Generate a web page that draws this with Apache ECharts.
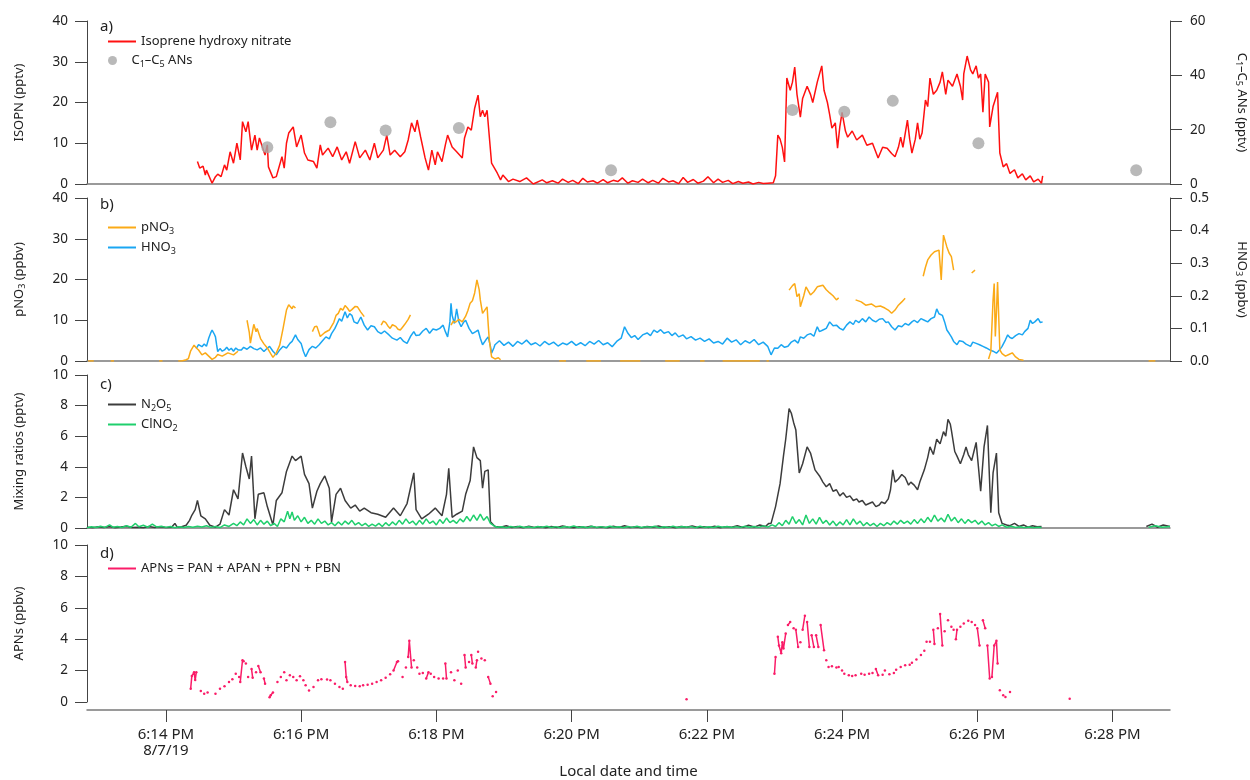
<!DOCTYPE html>
<html>
<head>
<meta charset="utf-8">
<script src="https://cdn.jsdelivr.net/npm/echarts@6/dist/echarts.min.js"></script>
<style>
  html, body { margin: 0; padding: 0; background: #fff; }
  #chart { width: 1250px; height: 780px; }
</style>
</head>
<body>
<div id="chart"></div>
<script>
// Time is given in seconds after 6:14:00 PM on 8/7/19; null marks a gap in the record.
const timeStart = -70, timeEnd = 891;
const tickSeconds = [0, 120, 240, 360, 480, 600, 720, 840];
const tickLabels = ['6:14 PM\n8/7/19', '6:16 PM', '6:18 PM', '6:20 PM', '6:22 PM', '6:24 PM', '6:26 PM', '6:28 PM'];

// a) isoprene hydroxy nitrate (pptv)
const isopn = [
  [28,5.5],[30,3.9],[33,4.4],[35,2.2],[36,3.4],[41,0.2],[44,1.8],[46,2.4],[49,1.8],[52,4.7],[54,3.4],[57,7.9],[60,5.1],[63,10],[66,5.9],
  [68,15.3],[71,12.8],[73,15.3],[76,8.3],[79,12],[81,8.3],[83,11.3],[88,7.1],[90,9.6],[91,4.2],[95,1.5],[98,1.8],[103,6.7],[105,3.9],
  [107,10],[109,12.5],[113,14],[116,9.1],[120,12],[123,7.6],[126,5.9],[131,5.5],[134,3.9],[137,9.6],[139,7.1],[144,8.8],[148,6.7],
  [152,9.1],[156,5.9],[160,7.9],[163,5.1],[168,10.4],[172,6.4],[177,8.3],[181,5.9],[185,10],[188,6.4],[193,8.3],[196,12],[199,7.1],
  [203,8.3],[208,6.7],[212,7.9],[215,10.8],[218,15],[221,12.8],[223,15.7],[226,11.6],[230,6.4],[233,3.4],[236,8.3],[239,4.7],[241,7.9],
  [245,5.5],[248,9.6],[250,12],[254,9.1],[258,7.9],[263,6.4],[265,11.3],[268,14],[271,13.2],[274,18.6],[277,21.8],[279,16.5],[281,18.1],
  [283,16.5],[285,18.1],[287,11.6],[289,5.1],[294,2.7],[297,1],[299,2.2],[304,0.6],[308,1.2],[314,0.6],[320,1.5],[326,0],[334,1],[338,0.3],
  [343,0.8],[348,0.2],[352,1.2],[357,0.4],[361,0.9],[366,0.1],[370,1.4],[374,0.5],[379,0.8],[383,0.2],[388,1.1],[392,0.3],[397,0.9],
  [401,0.6],[405,1.5],[410,0.2],[414,0.8],[419,0.4],[423,1.2],[428,0.3],[432,0.9],[437,0.2],[441,1.4],[446,0.5],[450,0.8],[455,0.1],
  [459,1.6],[463,0.4],[468,1.1],[472,0.2],[477,0.7],[481,1.8],[486,0.3],[490,1.2],[494,0.4],[499,0.9],[503,0.1],[508,0.6],[512,0.2],
  [517,0.5],[521,0],[526,0.4],[530,0.1],[534,0.2],[539,0.3],[541,2],[543,12],[545,11],[547,9],[549,5.4],[551,26],[554,23],[556,25],
  [558,28.7],[560,22],[563,16.4],[565,21],[569,24],[572,22],[574,20],[578,25],[582,29],[584,23],[587,20],[589,17],[591,13.7],[594,15],
  [596,8.8],[598,14],[600,17.6],[603,13],[605,11.5],[609,13],[613,10.8],[618,12],[622,9.5],[627,10],[632,6.4],[636,9],[640,8.8],
  [644,7.5],[647,6.7],[650,9],[652,11.5],[654,9],[658,15.7],[660,11],[662,7.6],[665,11],[667,15],[669,11],[671,12.5],[674,20.6],
  [676,19],[678,26],[681,22],[684,23],[687,25],[689,27.5],[692,22],[694,25.5],[698,24],[702,27],[705,24],[707,20.6],[708,27],[711,31.4],
  [714,28],[716,27],[719,29],[721,26],[723,27],[725,17.6],[727,27],[730,25],[731,14],[734,19],[738,22.5],[740,7.6],[743,4.2],[746,5],
  [749,2.6],[753,3.5],[756,1.5],[760,2.5],[763,1],[767,2],[770,0.5],[774,1.2],[777,0.2],[778,2]
];
// a) C1–C5 alkyl nitrates (pptv, right axis)
const alkylNitrates = [[90,13.5],[146,22.7],[195,19.7],[260,20.6],[395,5.1],[556,27.2],[602,26.6],[645,30.6],[721,15],[861,5.1]];

// b) particulate nitrate (ppbv)
const pno3 = [
  [-69,0],[-64,0],null,[-49,0],[-46,0],null,[-6,0],[-3,0],null,
  [11,0],[14,0],[18,0.3],[20,0.6],[22,2.5],[25,3.9],[27,3.2],[29,2.7],[32,1.5],[35,2],[38,1.2],[41,0.4],[44,0.9],[46,1.6],[50,1.2],
  [55,2],[60,1.5],[64,2.4],null,
  [72,10],[74,7],[75,4.4],[77,7.5],[78,9],[80,7.2],[81,8],[84,5.5],[87,4.2],[90,3.2],[93,1.8],[95,0.9],[98,2],[101,3.9],[104,8],
  [106,11],[107,12.5],[109,13.8],[110,14.2],[112,12.8],[113,13.5],[115,13],null,
  [130,7.2],[132,8.4],[134,8.5],[137,6],[139,6.5],[141,7],[145,7.6],[149,9.5],[151,11.2],[153,11.7],[155,12.9],[157,12.5],[159,13.6],
  [161,13],[163,12.2],[165,12.6],[168,13.4],[170,13.3],[173,12],[176,10.9],null,
  [191,8.8],[193,9.8],[195,9.5],[197,8.6],[199,8],[201,8.9],[204,8.5],[206,7.8],[208,7.6],[210,8.3],[212,9],[215,10.2],[217,11.3],null,
  [253,8.8],[255,9.8],[257,9.5],[260,10.2],[263,9.6],[266,11],[268,12.4],[270,14.2],[272,14.8],[274,16.7],[276,19.9],[278,17.5],
  [279,15],[281,11.7],[283,12.5],[285,13.3],[286,9],[287,5.1],[289,1],[292,0.5],[295,0.8],[297,0.3],null,
  [349,0],[355,0],null,[373,0],[386,0],null,[403,0],[421,0],null,[443,0],[456,0],null,[474,0],[478,0],null,[494,0],[527,0],null,
  [533,0],[535,0],null,
  [553,17.4],[556,18.5],[558,19],[560,15.8],[562,16.5],[563,13.3],[566,16],[568,18.2],[572,16.2],[575,17],[578,18.2],[583,18.6],
  [586,17.5],[589,16.7],[592,16],[595,15],[597,15.5],null,
  [612,15],[617,14.5],[621,13.7],[626,14],[630,13.3],[634,13.5],[638,13],[641,12.5],[644,11.7],[647,12.5],[650,13.7],[653,14.5],
  [656,15.4],null,
  [672,20.8],[674,23],[676,24.8],[679,26],[682,26.8],[686,27.2],[688,19.9],[690,30.9],[693,28],[695,26.5],[697,25.6],[699,22.3],null,
  [715,21.6],[718,22.3],null,
  [730,0.5],[732,2.3],[734,15],[735,19],[736,6],[737,12],[738,19.4],[740,2.7],[742,1.8],[745,1.2],[748,1.6],[751,2],[754,1],
  [757,0.4],[761,0.2],null,
  [872,0],[878,0]
];
// b) gas-phase nitric acid (ppbv, right axis)
const hno3 = [
  [27,0.039],[29,0.05],[30,0.054],[32,0.044],[34,0.052],[36,0.045],[38,0.07],[40,0.088],[41,0.095],[43,0.082],[44,0.074],[45,0.05],
  [46,0.029],[48,0.038],[50,0.03],[52,0.034],[54,0.042],[56,0.033],[58,0.039],[60,0.03],[62,0.04],[64,0.034],[67,0.034],[69,0.042],
  [72,0.036],[75,0.045],[78,0.038],[81,0.034],[84,0.04],[87,0.029],[89,0.036],[92,0.045],[95,0.03],[98,0.019],[101,0.034],[104,0.045],
  [107,0.04],[110,0.054],[112,0.06],[115,0.08],[117,0.066],[120,0.054],[122,0.03],[124,0.013],[127,0.035],[130,0.045],[133,0.04],
  [136,0.05],[139,0.062],[142,0.074],[145,0.068],[147,0.084],[150,0.1],[152,0.115],[154,0.13],[156,0.122],[159,0.151],[161,0.132],
  [163,0.145],[165,0.14],[167,0.12],[170,0.115],[173,0.135],[176,0.11],[179,0.095],[182,0.108],[185,0.105],[188,0.09],[191,0.084],
  [194,0.092],[198,0.08],[201,0.07],[205,0.064],[208,0.072],[211,0.06],[214,0.054],[217,0.075],[220,0.09],[222,0.078],[225,0.08],
  [228,0.092],[231,0.1],[234,0.085],[237,0.098],[240,0.095],[243,0.1],[246,0.11],[248,0.09],[250,0.074],[252,0.12],[253,0.177],
  [254,0.14],[256,0.115],[258,0.16],[260,0.12],[262,0.105],[264,0.118],[266,0.125],[269,0.1],[272,0.084],[275,0.09],[277,0.095],
  [279,0.07],[281,0.05],[284,0.065],[286,0.074],[288,0.045],[289,0.024],[291,0.04],
  [292,0.05],[296,0.062],[300,0.048],[304,0.058],[308,0.045],[312,0.06],[316,0.052],[320,0.064],[324,0.05],[328,0.056],[332,0.046],
  [336,0.06],[340,0.05],[344,0.058],[348,0.046],[352,0.055],[356,0.05],[360,0.06],[364,0.048],[368,0.056],[372,0.047],[376,0.06],
  [380,0.052],[384,0.063],[388,0.05],[392,0.056],[396,0.044],[400,0.06],[404,0.07],[407,0.105],[410,0.085],[413,0.072],[416,0.078],
  [419,0.066],[423,0.08],[427,0.086],[430,0.078],[433,0.095],[436,0.088],[439,0.096],[442,0.085],[446,0.09],[449,0.078],[452,0.086],
  [455,0.074],[459,0.08],[462,0.068],[466,0.075],[470,0.064],[474,0.07],[478,0.06],[482,0.068],[486,0.055],[490,0.06],[494,0.052],
  [498,0.07],[502,0.058],[506,0.065],[510,0.05],[514,0.062],[518,0.055],[522,0.066],[526,0.05],[530,0.058],[534,0.045],[537,0.019],
  [540,0.04],[543,0.039],[546,0.05],[549,0.042],[552,0.045],[555,0.058],[558,0.064],[561,0.055],[563,0.074],[566,0.07],[569,0.08],
  [572,0.084],[575,0.076],[578,0.105],[580,0.09],[583,0.095],[586,0.1],[589,0.12],[592,0.108],[595,0.11],[598,0.1],[601,0.095],
  [604,0.11],[607,0.12],[610,0.112],[612,0.125],[615,0.118],[618,0.13],[621,0.12],[624,0.135],[627,0.125],[630,0.12],[633,0.128],
  [636,0.13],[639,0.118],[641,0.12],[644,0.105],[647,0.095],[650,0.108],[653,0.105],[656,0.115],[659,0.11],[662,0.12],[664,0.125],
  [667,0.118],[670,0.13],[673,0.125],[676,0.12],[679,0.13],[682,0.135],[684,0.16],[686,0.145],[689,0.14],[691,0.12],[693,0.095],
  [695,0.085],[697,0.074],[699,0.06],[702,0.05],[704,0.062],[707,0.06],[710,0.052],[714,0.045],[716,0.058],[719,0.054],[722,0.05],
  [725,0.045],[728,0.04],[731,0.034],[734,0.03],[737,0.024],[740,0.035],[742,0.045],[745,0.065],[747,0.08],[749,0.072],[751,0.069],
  [754,0.078],[757,0.084],[760,0.08],[762,0.09],[765,0.1],[767,0.125],[769,0.115],[771,0.12],[774,0.13],[776,0.118],[778,0.12]
];

// c) dinitrogen pentoxide (pptv)
const n2o5 = [
  [-70,0.05],[-65,0.02],[-60,0.08],[-55,0.03],[-50,0.1],[-45,0.02],[-40,0.06],[-35,0.12],[-30,0.03],[-25,0.05],[-20,0.02],[-15,0.1],
  [-10,0.04],[-5,0.08],[0,0.03],[5,0.05],[8,0.3],[10,0.05],[14,0.08],
  [18,0.18],[21,0.5],[23,0.83],[26,1.2],[28,1.8],[31,0.8],[35,0.6],[39,0.18],[44,0.05],[48,0.25],[52,1.2],[56,0.85],[60,2.5],[64,1.9],
  [68,4.9],[71,4.0],[74,3.2],[76,4.7],[79,0.6],[82,2.2],[87,2.3],[90,1.4],[95,0.2],[98,1.8],[103,2.3],[107,3.7],[112,4.7],[115,4.4],
  [120,4.7],[123,3.5],[127,2.9],[130,1.3],[134,2.4],[137,2.9],[141,3.4],[145,2.6],[147,0.4],[151,2.2],[155,2.6],[159,1.8],[164,1.3],
  [168,1.5],[172,1.1],[176,1.3],[182,1.0],[188,0.9],[195,0.7],[202,1.3],[208,0.8],[214,1.6],[220,3.6],[222,1.2],[227,0.6],[233,0.9],
  [239,1.3],[245,0.8],[249,2.2],[251,3.9],[254,0.7],[258,0.9],[263,1.1],[266,2.2],[270,3.1],[273,5.3],[276,4.6],[279,4.4],[281,2.6],
  [283,3.7],[286,3.8],[288,0.4],[292,0.1],
  [297,0.05],[302,0.15],[307,0.03],[312,0.1],[317,0.02],[322,0.12],[327,0.04],[332,0.08],[337,0.02],[342,0.1],[347,0.03],[352,0.14],
  [357,0.05],[362,0.02],[367,0.09],[372,0.03],[377,0.12],[382,0.04],[387,0.07],[392,0.02],[397,0.11],[402,0.04],[407,0.15],[412,0.03],
  [417,0.08],[422,0.02],[427,0.1],[432,0.05],[437,0.13],[442,0.03],[447,0.09],[452,0.02],[457,0.1],[462,0.05],[467,0.14],[472,0.03],
  [477,0.08],[482,0.04],[487,0.12],[492,0.02],[497,0.09],[502,0.05],[507,0.15],[512,0.04],[517,0.18],[522,0.06],[527,0.2],[532,0.1],
  [535,0.3],[537,0.3],[541,1.4],[545,2.9],[548,4.7],[550,5.8],[553,7.8],[555,7.5],[557,6.9],[559,6.4],[562,3.6],[565,4.2],[569,5.3],
  [572,4.9],[576,3.8],[580,3.4],[583,3.0],[586,2.7],[589,2.9],[592,2.4],[595,2.5],[598,2.1],[601,2.3],[604,2.0],[607,2.1],[610,1.8],
  [613,1.9],[615,1.7],[618,1.8],[621,1.5],[624,1.6],[627,1.7],[630,1.4],[633,1.5],[635,1.7],[638,1.6],[641,1.9],[643,2.5],[645,3.8],
  [647,3.0],[650,3.2],[653,3.5],[656,3.3],[659,2.8],[661,3.0],[664,2.8],[667,2.5],[669,3.0],[673,3.8],[676,4.6],[678,5.3],[681,4.8],
  [684,5.8],[687,5.5],[690,6.3],[692,6.0],[694,7.1],[696,6.8],[697,6.4],[700,5.0],[702,4.7],[705,4.2],[708,4.8],[710,5.3],[712,4.8],
  [715,4.4],[717,5.0],[719,5.6],[721,4.0],[723,2.4],[726,5.3],[729,6.7],[732,1.0],[734,3.6],[737,4.9],[739,1.0],[742,0.3],[746,0.2],
  [749,0.15],[753,0.3],[757,0.1],[761,0.2],[765,0.05],[769,0.15],[773,0.08],[777,0.1],null,
  [870,0.1],[875,0.25],[880,0.05],[885,0.2],[891,0.1]
];
// c) nitryl chloride (pptv)
const clno2 = [
  [-70,0.02],[-66,0.08],[-62,0.03],[-58,0.12],[-54,0.04],[-50,0.2],[-47,0.05],[-43,0.1],[-39,0.03],[-35,0.15],[-31,0.05],[-27,0.3],
  [-24,0.08],[-20,0.18],[-16,0.05],[-12,0.25],[-8,0.06],[-4,0.12],[0,0.04],[4,0.1],[8,0.02],[12,0.08],[16,0.03],[20,0.1],
  [24,0.05],[28,0.12],[32,0.06],[36,0.15],[40,0.04],[44,0.1],[48,0.03],[52,0.2],[56,0.1],[60,0.3],[63,0.15],[66,0.4],[69,0.2],[72,0.6],
  [75,0.3],[78,0.55],[81,0.2],[84,0.5],[87,0.25],[90,0.45],[93,0.15],[96,0.3],[99,0.1],[102,0.6],[105,0.4],[108,1.1],[110,0.6],
  [112,1.05],[114,0.5],[117,0.8],[120,0.4],[123,0.7],[126,0.3],[129,0.5],[132,0.25],[135,0.6],[138,0.3],[141,0.45],[144,0.2],[147,0.35],
  [150,0.15],[153,0.4],[156,0.2],[159,0.45],[162,0.25],[165,0.5],[168,0.2],[171,0.35],[174,0.15],[177,0.3],[180,0.1],[183,0.25],
  [186,0.12],[189,0.3],[192,0.1],[195,0.35],[198,0.15],[201,0.4],[204,0.2],[207,0.5],[210,0.25],[213,0.6],[216,0.3],[219,0.45],
  [222,0.2],[225,0.5],[228,0.25],[231,0.6],[234,0.3],[237,0.45],[240,0.2],[243,0.55],[246,0.3],[249,0.65],[252,0.35],[255,0.5],
  [258,0.3],[261,0.6],[264,0.4],[267,0.75],[270,0.45],[273,0.85],[276,0.5],[279,0.9],[282,0.5],[285,0.75],[288,0.3],[291,0.15],
  [294,0.05],[298,0.08],[302,0.02],[306,0.1],[310,0.04],[314,0.12],[318,0.03],[322,0.08],[326,0.02],[330,0.1],[334,0.05],[338,0.12],
  [342,0.03],[346,0.09],[350,0.02],[354,0.1],[358,0.05],[362,0.13],[366,0.03],[370,0.08],[374,0.02],[378,0.11],[382,0.04],[386,0.09],
  [390,0.03],[394,0.12],[398,0.05],[402,0.08],[406,0.02],[410,0.1],[414,0.04],[418,0.12],[422,0.03],[426,0.09],[430,0.05],[434,0.11],
  [438,0.02],[442,0.08],[446,0.04],[450,0.12],[454,0.03],[458,0.1],[462,0.05],[466,0.09],[470,0.02],[474,0.11],[478,0.04],[482,0.08],
  [486,0.03],[490,0.12],[494,0.05],[498,0.1],[502,0.03],[506,0.09],[510,0.04],[514,0.12],[518,0.05],[522,0.1],[526,0.04],[530,0.14],
  [534,0.06],[538,0.2],[541,0.1],[544,0.35],[547,0.15],[550,0.5],[553,0.25],[556,0.75],[559,0.3],[562,0.55],[565,0.2],[568,0.85],
  [571,0.3],[574,0.6],[577,0.25],[580,0.7],[583,0.3],[586,0.5],[589,0.2],[592,0.45],[595,0.15],[598,0.4],[601,0.2],[604,0.55],
  [607,0.2],[610,0.6],[613,0.25],[616,0.45],[619,0.15],[622,0.35],[625,0.15],[628,0.3],[631,0.1],[634,0.3],[637,0.15],[640,0.35],
  [643,0.2],[646,0.45],[649,0.25],[652,0.5],[655,0.3],[658,0.45],[661,0.25],[664,0.55],[667,0.3],[670,0.6],[673,0.35],[676,0.7],
  [679,0.4],[682,0.85],[685,0.45],[688,0.65],[691,0.4],[694,0.9],[697,0.45],[700,0.7],[703,0.35],[706,0.6],[709,0.3],[712,0.55],
  [715,0.35],[718,0.5],[721,0.25],[724,0.45],[727,0.2],[730,0.35],[733,0.15],[736,0.25],[739,0.1],[742,0.2],[746,0.05],[750,0.12],
  [754,0.03],[758,0.08],[762,0.02],[766,0.06],[770,0.02],[774,0.05],[777,0.03],null,
  [872,0.05],[878,0.15],[884,0.05],[891,0.1]
];

// d) sum of peroxy acyl nitrates (ppbv)
const apns = [
  [22,0.85],[23,1.65],[25,1.9],[26,1.4],[27,1.9],null,[31,0.7],null,[34,0.53],null,[37,0.6],null,[44,0.53],null,[48,0.85],null,
  [52,1.0],null,[56,1.28],null,[59,1.45],null,[62,1.8],null,[65,1.6],null,[66,1.28],[68,2.66],[69,2.6],null,[71,2.45],null,[73,1.6],null,
  [76,2.1],[77,1.55],null,[80,1.9],null,[82,2.3],[84,1.9],null,[87,1.5],[88,1.17],null,[92,0.3],[93,0.43],[95,0.6],null,[99,1.28],null,
  [102,1.6],null,[105,1.9],null,[107,1.38],null,[110,1.7],null,[113,1.6],null,[116,1.38],null,[119,1.64],null,[122,1.38],null,
  [124,1.06],null,[127,0.74],null,[131,0.96],null,[135,1.38],null,[138,1.45],null,[143,1.43],null,[146,1.38],null,[150,1.17],null,
  [154,0.96],null,[157,0.85],null,[159,2.55],[160,1.6],[161,1.28],null,[164,1.06],null,[168,1.02],null,[172,1.0],null,[175,1.06],null,
  [179,1.1],null,[183,1.17],null,[187,1.28],null,[191,1.38],null,[195,1.55],null,[199,1.77],null,[202,2.0],[205,2.55],[206,2.6],null,
  [210,1.6],null,[213,2.2],null,[215,2.87],[216,3.9],[218,2.2],null,[220,2.66],null,[223,2.2],null,[225,1.8],null,[228,1.85],null,
  [231,1.5],[233,1.9],null,[235,1.8],null,[238,1.6],null,[242,1.5],null,[246,1.5],null,[248,2.45],[249,1.5],null,[253,1.9],null,
  [256,1.38],null,[259,2.0],null,[262,1.17],null,[265,3.0],[266,2.2],null,[269,2.55],null,[271,3.0],[272,2.45],null,[275,2.2],[276,2.66],null,
  [277,3.2],null,[280,2.77],null,[283,2.66],null,[286,1.6],[288,1.17],null,[290,0.36],null,[293,0.64],null,
  [462,0.17],null,
  [540,1.8],[541,2.87],null,[543,4.15],[544,3.6],[546,3.1],[547,3.8],[548,3.4],[550,4.36],null,[552,4.9],[554,5.1],null,[557,4.7],null,
  [559,4.6],[561,3.5],null,[563,3.8],null,[565,4.6],[567,5.5],null,[569,5.1],[571,3.5],null,[573,4.25],[575,3.5],null,[577,4.25],[579,3.5],null,
  [581,4.9],[584,3.3],null,[586,2.66],null,[588,2.23],null,[591,2.28],null,[595,2.2],null,[597,2.23],null,[600,2.0],null,[602,1.8],null,
  [606,1.7],null,[609,1.66],null,[612,1.7],null,[617,1.8],null,[620,1.74],null,[624,1.8],null,[627,1.85],null,[630,2.1],[632,1.7],null,
  [636,1.74],null,[638,2.0],null,[642,1.77],null,[646,1.85],null,[648,2.06],null,[652,2.23],null,[656,2.34],null,[660,2.38],null,
  [662,2.5],null,[666,2.7],null,[670,3.0],null,[673,3.26],null,[675,3.83],null,[678,3.83],null,[681,4.6],[682,3.7],null,[685,4.7],null,
  [687,5.6],[689,3.6],null,[691,4.5],null,[694,5.2],null,[697,4.8],null,[699,4.6],null,[701,4.0],[702,4.6],null,[705,4.8],null,
  [708,5.0],null,[712,5.17],null,[715,5.1],null,[718,4.9],null,[720,4.7],[722,3.6],null,[725,5.2],[727,4.7],null,[729,3.6],[731,1.5],null,
  [733,1.6],[735,3.6],[737,3.9],[738,2.45],null,[740,0.75],null,[743,0.43],null,[745,0.32],null,[749,0.64],null,
  [802,0.2]
];

const FONT = '"Noto Sans", "DejaVu Sans", sans-serif';
const INK = '#222';
const rich = {
  n: { fontFamily: FONT, fontSize: 13, lineHeight: 16, color: INK },
  s: { fontFamily: FONT, fontSize: 9, lineHeight: 8, color: INK, verticalAlign: 'bottom' }
};
const legendText = {
  'Isoprene hydroxy nitrate': '{n|Isoprene hydroxy nitrate}',
  'C1–C5 ANs': '{n|C}{s|1}{n|–C}{s|5}{n| ANs}',
  'pNO3': '{n|pNO}{s|3}',
  'HNO3': '{n|HNO}{s|3}',
  'N2O5': '{n|N}{s|2}{n|O}{s|5}',
  'ClNO2': '{n|ClNO}{s|2}',
  'APNs': '{n|APNs = PAN + APAN + PPN + PBN}'
};

const COLORS = {
  isopn: '#ff1010', ans: '#a8a8a8', pno3: '#fbaa17', hno3: '#1aa6f2',
  n2o5: '#3c3c3c', clno2: '#1fcf6c', apns: '#fa1c68'
};

const withGaps = arr => arr.map(p => (p === null ? ['-', '-'] : p));

const grids = [
  { left: 87, width: 1083, top: 21, height: 163 },
  { left: 87, width: 1083, top: 198, height: 163 },
  { left: 87, width: 1083, top: 375, height: 153 },
  { left: 87, width: 1083, top: 545, height: 157 }
].map(g => Object.assign({ outerBoundsMode: 'none', containLabel: false }, g));

const xAxes = grids.map((g, i) => {
  const last = i === grids.length - 1;
  return {
    type: 'value', gridIndex: i, min: timeStart, max: timeEnd,
    offset: last ? 8 : 0,
    splitLine: { show: false },
    axisLine: { show: true, onZero: false, lineStyle: { color: '#7a7a7a', width: 1.5 } },
    axisTick: last ? { show: true, customValues: tickSeconds, length: 12, lineStyle: { color: '#444', width: 1 } } : { show: false },
    axisLabel: last ? {
      show: true, customValues: tickSeconds, margin: 17, lineHeight: 16,
      fontFamily: FONT, fontSize: 15, color: INK,
      formatter: v => tickLabels[tickSeconds.indexOf(v)] || ''
    } : { show: false },
    name: last ? 'Local date and time' : '',
    nameLocation: 'middle', nameGap: 54,
    nameTextStyle: { fontFamily: FONT, fontSize: 15, color: INK }
  };
});

function yAxis(gridIndex, position, max, interval, name, fmt) {
  const left = position === 'left';
  return {
    type: 'value', gridIndex, position, min: 0, max, interval,
    splitLine: { show: false },
    axisLine: { show: true, onZero: false, lineStyle: { color: '#444', width: 1 } },
    axisTick: { show: true, length: 12, lineStyle: { color: '#444', width: 1 } },
    axisLabel: { margin: left ? 19 : 20, fontFamily: FONT, fontSize: 13.5, color: INK, formatter: fmt || (v => String(v)) },
    name, nameLocation: 'middle', nameRotate: left ? 90 : -90, nameGap: left ? 60 : 64,
    nameTextStyle: { rich }
  };
}

const yAxes = [
  yAxis(0, 'left', 40, 10, '{n|ISOPN (pptv)}'),
  yAxis(0, 'right', 60, 20, '{n|C}{s|1}{n|–C}{s|5}{n| ANs (pptv)}'),
  yAxis(1, 'left', 40, 10, '{n|pNO}{s|3}{n| (ppbv)}'),
  yAxis(1, 'right', 0.5, 0.1, '{n|HNO}{s|3}{n| (ppbv)}', v => v.toFixed(1)),
  yAxis(2, 'left', 10, 2, '{n|Mixing ratios (pptv)}'),
  yAxis(3, 'left', 10, 2, '{n|APNs (ppbv)}')
];

function line(name, data, color, xi, yi, extra) {
  return Object.assign({
    type: 'line', name, xAxisIndex: xi, yAxisIndex: yi, data: withGaps(data),
    symbol: 'none', showSymbol: false, connectNulls: false, silent: true,
    lineStyle: { color, width: 1.5 }, itemStyle: { color }, z: 3
  }, extra || {});
}

const series = [
  line('Isoprene hydroxy nitrate', isopn, COLORS.isopn, 0, 0),
  { type: 'scatter', name: 'C1–C5 ANs', xAxisIndex: 0, yAxisIndex: 1, data: alkylNitrates,
    symbolSize: 12, itemStyle: { color: COLORS.ans }, silent: true, z: 4 },
  line('HNO3', hno3, COLORS.hno3, 1, 3),
  line('pNO3', pno3, COLORS.pno3, 1, 2),
  line('N2O5', n2o5, COLORS.n2o5, 2, 4),
  line('ClNO2', clno2, COLORS.clno2, 2, 4),
  line('APNs', apns, COLORS.apns, 3, 5, { symbol: 'circle', showSymbol: true, showAllSymbol: true, symbolSize: 2.5 })
];

const LINE_ICON = 'path://M0,0H28V2H0Z';
function legend(name, top, icon, itemHeight) {
  return {
    data: [name], left: 108, top, orient: 'vertical', padding: 0,
    itemWidth: 28, itemHeight, itemGap: 0, icon, selectedMode: false,
    formatter: n => legendText[n],
    textStyle: { rich }
  };
}
const legends = [
  legend('Isoprene hydroxy nitrate', 35, LINE_ICON, 14),
  legend('C1–C5 ANs', 54, 'circle', 9),
  legend('pNO3', 221, LINE_ICON, 14),
  legend('HNO3', 241, LINE_ICON, 14),
  legend('N2O5', 398, LINE_ICON, 14),
  legend('ClNO2', 418, LINE_ICON, 14),
  legend('APNs', 562, LINE_ICON, 14)
];

const panelTags = ['a)', 'b)', 'c)', 'd)'];
const titles = panelTags.map((t, i) => ({
  text: t, left: 100, top: [19, 197, 377, 546][i], padding: 0,
  textStyle: { fontFamily: FONT, fontSize: 15, fontWeight: 'normal', color: INK }
}));

const chart = echarts.init(document.getElementById('chart'), null, { renderer: 'canvas' });
chart.setOption({
  animation: false,
  backgroundColor: '#ffffff',
  title: titles,
  legend: legends,
  grid: grids,
  xAxis: xAxes,
  yAxis: yAxes,
  series
});
</script>
</body>
</html>
